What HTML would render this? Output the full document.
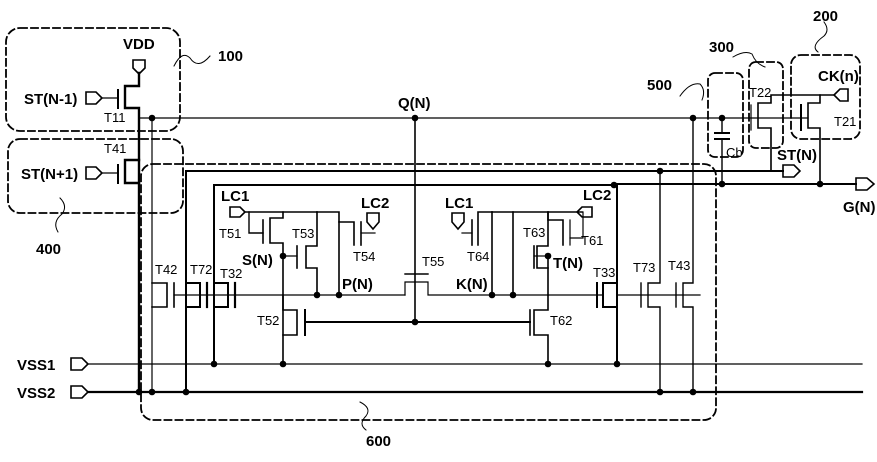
<!DOCTYPE html>
<html><head><meta charset="utf-8"><style>
html,body{margin:0;padding:0;background:#fff;}
svg{display:block}
text{font-family:"Liberation Sans",sans-serif;fill:#000}
.b{font-weight:bold;font-size:15px}
.s{font-size:13px}
</style></head><body>
<svg width="877" height="462" viewBox="0 0 877 462" xmlns="http://www.w3.org/2000/svg">
<g fill="none" stroke="#000" stroke-linecap="square">
<g stroke-dasharray="7,4" stroke-width="1.8">
<rect x="6" y="28" width="174" height="103" rx="14"/>
<rect x="8" y="139" width="175" height="74" rx="12"/>
<rect x="141" y="164" width="575" height="256" rx="12"/>
<rect x="708" y="73" width="35" height="84" rx="7"/>
<rect x="749" y="62" width="34" height="86" rx="7"/>
<rect x="791" y="55" width="69" height="84" rx="10"/>
</g>
<g stroke-width="1">
<path d="M174,66 Q182,50 190,58 Q198,70 210,56"/>
<path d="M60,198 Q68,206 62,214 Q52,222 58,232"/>
<path d="M360,402 Q372,408 366,416 Q358,424 366,430"/>
<path d="M680,96 Q690,82 700,84 Q706,90 702,100"/>
<path d="M733,57 Q745,50 752,54 Q756,64 765,67"/>
<path d="M824,22 Q830,30 824,36 Q810,46 818,52"/>
</g>
<line x1="139" y1="118" x2="808" y2="118" stroke-width="1.2"/>
<path d="M139,73 V86 H125 V108 H139 V392" stroke-width="2.4"/>
<path d="M139,160 H125 V183 H139" stroke-width="2.4"/>
<line x1="118" y1="90" x2="118" y2="108" stroke-width="2"/>
<line x1="118" y1="165" x2="118" y2="183" stroke-width="2"/>
<line x1="102" y1="98" x2="118" y2="98" stroke-width="1.2"/>
<line x1="102" y1="173" x2="118" y2="173" stroke-width="1.2"/>
<path d="M133,60 H145 V68 L139,74 L133,68 Z" stroke-width="1.6"/>
<path d="M86,92 H96 L102,98 L96,104 H86 Z" stroke-width="1.6"/>
<path d="M86,167 H96 L102,173 L96,179 H86 Z" stroke-width="1.6"/>
<line x1="152" y1="118" x2="152" y2="392" stroke-width="1.2"/>
<path d="M71,358 H82 L88,364 L82,370 H71 Z" stroke-width="1.6"/>
<path d="M71,386 H82 L88,392 L82,398 H71 Z" stroke-width="1.6"/>
<line x1="88" y1="364" x2="862" y2="364" stroke-width="1.2"/>
<line x1="88" y1="392" x2="862" y2="392" stroke-width="2.2"/>
<path d="M186,392 V171 H783" stroke-width="2"/>
<path d="M783,165 H794 L800,171 L794,177 H783 Z" stroke-width="1.6"/>
<line x1="614" y1="184" x2="856" y2="184" stroke-width="2"/>
<path d="M856,178 H867 L874,184 L867,190 H856 Z" stroke-width="1.6"/>
<path d="M214,364 V185 H617 V364" stroke-width="2"/>
<line x1="174" y1="295" x2="405" y2="295" stroke-width="1.2"/>
<path d="M405,295 V282 H428 V295 H603" stroke-width="1.2"/>
<line x1="617" y1="295" x2="700" y2="295" stroke-width="1.2"/>
<line x1="405" y1="274" x2="428" y2="274" stroke-width="1.4"/>
<line x1="415" y1="118" x2="415" y2="322" stroke-width="1.6"/>
<path d="M152,283 H167 V307 H152" stroke-width="1.6"/>
<line x1="174" y1="283" x2="174" y2="307" stroke-width="1.6"/>
<path d="M186,283 H200 V307 H186" stroke-width="2"/>
<line x1="207" y1="283" x2="207" y2="307" stroke-width="2.2"/>
<path d="M214,283 H228 V307 H214" stroke-width="2"/>
<line x1="235" y1="283" x2="235" y2="307" stroke-width="2.2"/>
<line x1="245" y1="212" x2="317" y2="212" stroke-width="1.4"/>
<path d="M230,207 H240 L245,212 L240,217 H230 Z" stroke-width="1.6"/>
<path d="M283,212 V218 H270 V243 H283 V364" stroke-width="1.6"/>
<line x1="263" y1="220" x2="263" y2="243" stroke-width="1.6"/>
<path d="M263,233 H249 V212" stroke-width="1.4"/>
<path d="M317,212 V246 H306 V268 H317 V295" stroke-width="1.6"/>
<line x1="297" y1="246" x2="297" y2="268" stroke-width="1.6"/>
<line x1="283" y1="256" x2="297" y2="256" stroke-width="1.2" stroke-dasharray="2,1"/>
<path d="M317,212 H339 V222 H354 V245" stroke-width="1.6"/>
<line x1="339" y1="222" x2="339" y2="295" stroke-width="1.6"/>
<line x1="361" y1="222" x2="361" y2="245" stroke-width="1.6"/>
<line x1="361" y1="233" x2="375" y2="233" stroke-width="1.2"/>
<path d="M367,213 H379 V222 L373,229 L367,222 Z" stroke-width="1.6"/>
<path d="M283,295 V310 H297 V335 H283" stroke-width="1.6"/>
<line x1="305" y1="310" x2="305" y2="335" stroke-width="2"/>
<line x1="305" y1="322" x2="530" y2="322" stroke-width="2"/>
<path d="M548,295 V310 H534 V335 H548 V364" stroke-width="1.6"/>
<line x1="530" y1="310" x2="530" y2="335" stroke-width="1.6"/>
<line x1="492" y1="212" x2="582" y2="212" stroke-width="1.4"/>
<path d="M582,207 H592 V217 H582 L577,212 Z" stroke-width="1.6"/>
<path d="M492,212 H478 V245" stroke-width="1.6"/>
<line x1="492" y1="212" x2="492" y2="295" stroke-width="1.6"/>
<line x1="472" y1="220" x2="472" y2="245" stroke-width="1.6"/>
<line x1="462" y1="233" x2="472" y2="233" stroke-width="1.2"/>
<path d="M452,213 H464 V222 L458,229 L452,222 Z" stroke-width="1.6"/>
<path d="M513,212 V295" stroke-width="1.6"/>
<path d="M548,212 V246 H537 V268 H548" stroke-width="1.6"/>
<line x1="534" y1="246" x2="534" y2="268" stroke-width="1.6"/>
<line x1="534" y1="256" x2="548" y2="256" stroke-width="1.2"/>
<path d="M548,212 V220 H563 V245" stroke-width="1.6"/>
<line x1="548" y1="256" x2="548" y2="295" stroke-width="1.6"/>
<line x1="570" y1="220" x2="570" y2="245" stroke-width="1.2"/>
<path d="M570,238 H583 V212" stroke-width="1.2"/>
<path d="M617,283 H603 V307 H617" stroke-width="2"/>
<line x1="597" y1="283" x2="597" y2="307" stroke-width="2"/>
<path d="M660,171 V283 H648 V307 H660 V392" stroke-width="1.4"/>
<line x1="641" y1="283" x2="641" y2="307" stroke-width="1.4"/>
<path d="M693,118 V283 H683 V307 H693 V392" stroke-width="1.4"/>
<line x1="676" y1="283" x2="676" y2="307" stroke-width="1.4"/>
<line x1="722" y1="118" x2="722" y2="133" stroke-width="1.4"/>
<line x1="722" y1="139" x2="722" y2="184" stroke-width="1.4"/>
<line x1="715" y1="133" x2="729" y2="133" stroke-width="2"/>
<line x1="715" y1="139" x2="729" y2="139" stroke-width="2"/>
<path d="M771,171 V128 H758 V103 H771 V95 H834" stroke-width="1.6"/>
<line x1="751" y1="105" x2="751" y2="130" stroke-width="1.2"/>
<path d="M820,184 V128 H808 V103 H820 V95" stroke-width="1.6"/>
<line x1="801" y1="105" x2="801" y2="130" stroke-width="2"/>
<path d="M834,95 L840,89 H848 V101 H840 Z" stroke-width="1.6"/>
</g>
<g fill="#000">
<circle cx="152" cy="118" r="3.3"/><circle cx="415" cy="118" r="3.3"/><circle cx="693" cy="118" r="3.3"/><circle cx="722" cy="118" r="3.3"/>
<circle cx="614" cy="185" r="3.3"/><circle cx="660" cy="171" r="3.3"/><circle cx="722" cy="184" r="3.3"/><circle cx="820" cy="184" r="3.3"/>
<circle cx="283" cy="256" r="3.3"/><circle cx="548" cy="256" r="3.3"/>
<circle cx="317" cy="295" r="3.3"/><circle cx="339" cy="295" r="3.3"/><circle cx="492" cy="295" r="3.3"/><circle cx="513" cy="295" r="3.3"/>
<circle cx="415" cy="322" r="3.3"/>
<circle cx="214" cy="364" r="3.3"/><circle cx="283" cy="364" r="3.3"/><circle cx="548" cy="364" r="3.3"/><circle cx="617" cy="364" r="3.3"/>
<circle cx="139" cy="392" r="3.3"/><circle cx="152" cy="392" r="3.3"/><circle cx="186" cy="392" r="3.3"/><circle cx="660" cy="392" r="3.3"/><circle cx="693" cy="392" r="3.3"/>
</g>
<text class="b" x="123" y="49">VDD</text>
<text class="b" x="218" y="61">100</text>
<text class="b" x="24" y="104">ST(N-1)</text>
<text class="s" x="104" y="122">T11</text>
<text class="s" x="104" y="153">T41</text>
<text class="b" x="21" y="179">ST(N+1)</text>
<text class="b" x="36" y="254">400</text>
<text class="b" x="398" y="108">Q(N)</text>
<text class="b" x="647" y="90">500</text>
<text class="b" x="709" y="52">300</text>
<text class="b" x="813" y="21">200</text>
<text class="b" x="818" y="81">CK(n)</text>
<text class="s" x="749" y="97">T22</text>
<text class="s" x="834" y="126">T21</text>
<text class="s" x="726" y="157">Cb</text>
<text class="b" x="777" y="160">ST(N)</text>
<text class="b" x="843" y="212">G(N)</text>
<text class="b" x="221" y="201">LC1</text>
<text class="s" x="219" y="238">T51</text>
<text class="s" x="292" y="238">T53</text>
<text class="b" x="361" y="208">LC2</text>
<text class="s" x="353" y="261">T54</text>
<text class="b" x="242" y="265">S(N)</text>
<text class="b" x="342" y="289">P(N)</text>
<text class="s" x="422" y="266">T55</text>
<text class="b" x="445" y="208">LC1</text>
<text class="s" x="467" y="261">T64</text>
<text class="s" x="523" y="237">T63</text>
<text class="s" x="581" y="245">T61</text>
<text class="b" x="583" y="200">LC2</text>
<text class="b" x="553" y="268">T(N)</text>
<text class="b" x="456" y="289">K(N)</text>
<text class="s" x="155" y="274">T42</text>
<text class="s" x="190" y="274">T72</text>
<text class="s" x="220" y="278">T32</text>
<text class="s" x="593" y="277">T33</text>
<text class="s" x="633" y="272">T73</text>
<text class="s" x="668" y="270">T43</text>
<text class="s" x="257" y="325">T52</text>
<text class="s" x="550" y="325">T62</text>
<text class="b" x="17" y="370">VSS1</text>
<text class="b" x="17" y="398">VSS2</text>
<text class="b" x="366" y="446">600</text>
</svg>
</body></html>
